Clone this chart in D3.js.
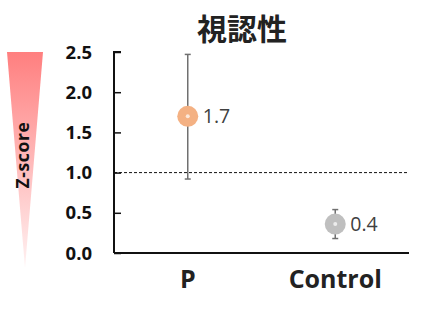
<!DOCTYPE html>
<html><head><meta charset="utf-8">
<script src="https://cdn.jsdelivr.net/npm/d3@7"></script>
<style>html,body{margin:0;padding:0;background:#fff;}svg{display:block;}</style>
</head><body>
<svg id="c" width="432" height="312"></svg>
<script>
const title = "視認性";
const categories = ["P", "Control"];
const means = [1.7, 0.36];
const meanLabels = ["1.7", "0.4"];
const errLow = [0.92, 0.18];
const errHigh = [2.47, 0.54];
const dotColors = ["#f4b183", "#bfbfbf"];
const yTicks = [0, 0.5, 1.0, 1.5, 2.0, 2.5];
const refLine = 1.0;

const svg = d3.select("#c");
const x0 = 114, x1 = 409, yTop = 52, yBot = 253;
const y = d3.scaleLinear().domain([0, 2.5]).range([yBot, yTop]);
const x = d3.scalePoint().domain(categories).range([x0, x1]).padding(0.5);
const font = "'Open Sans','Noto Sans',sans-serif";

// gradient triangle
const defs = svg.append("defs");
const g = defs.append("linearGradient").attr("id","tri").attr("x1",0).attr("y1",0).attr("x2",0).attr("y2",1);
g.append("stop").attr("offset","0%").attr("stop-color","#ff7f7f");
g.append("stop").attr("offset","100%").attr("stop-color","#fff2f2");
svg.append("path").attr("d","M7,52 L43,52 L25,268 Z").attr("fill","url(#tri)");
svg.append("text").attr("transform","translate(29,155) rotate(-90)")
  .attr("text-anchor","middle").attr("font-family",font)
  .attr("font-weight","bold").attr("font-size",17.5).attr("letter-spacing",0.6)
  .attr("fill","#111").text("Z-score");

// title
svg.append("text").attr("x",242).attr("y",40).attr("text-anchor","middle")
  .attr("font-family","'Noto Sans CJK JP',sans-serif").attr("font-weight","bold")
  .attr("font-size",30).attr("fill","#222").text(title);

// y axis
const yAxis = d3.axisRight(y).tickValues(yTicks).tickSize(7).tickFormat("");
const ya = svg.append("g").attr("transform",`translate(${x0},0)`).call(yAxis);
ya.select(".domain").attr("d",`M7,${yTop}H0V${yBot}`).attr("stroke","#111").attr("stroke-width",2);
ya.selectAll(".tick line").attr("stroke","#111").attr("stroke-width",1.5);
svg.append("g").selectAll("text").data(yTicks).join("text")
  .attr("x",92).attr("y",d=>y(d)+6.5).attr("text-anchor","end")
  .attr("font-family",font).attr("font-weight","bold")
  .attr("font-size",18.5).attr("fill","#111").text(d=>d.toFixed(1));

// x axis
svg.append("line").attr("x1",x0).attr("x2",x1).attr("y1",yBot).attr("y2",yBot)
  .attr("stroke","#111").attr("stroke-width",2);
svg.append("g").selectAll("text").data(categories).join("text")
  .attr("x",d=>x(d)).attr("y",288).attr("text-anchor","middle")
  .attr("font-family",font).attr("font-weight","bold")
  .attr("font-size",25).attr("fill","#222").text(d=>d);

// ref line
svg.append("line").attr("x1",x0).attr("x2",x1).attr("y1",y(refLine)).attr("y2",y(refLine))
  .attr("stroke","#111").attr("stroke-width",1).attr("stroke-dasharray","3,2");

// error bars
const eb = svg.append("g").selectAll("g").data(categories).join("g");
eb.append("line").attr("x1",d=>x(d)).attr("x2",d=>x(d))
  .attr("y1",(d,i)=>y(errLow[i])).attr("y2",(d,i)=>y(errHigh[i]))
  .attr("stroke","#707070").attr("stroke-width",1.5);
eb.append("line").attr("x1",d=>x(d)-3).attr("x2",d=>x(d)+3)
  .attr("y1",(d,i)=>y(errHigh[i])).attr("y2",(d,i)=>y(errHigh[i])).attr("stroke","#707070").attr("stroke-width",1.5);
eb.append("line").attr("x1",d=>x(d)-3).attr("x2",d=>x(d)+3)
  .attr("y1",(d,i)=>y(errLow[i])).attr("y2",(d,i)=>y(errLow[i])).attr("stroke","#707070").attr("stroke-width",1.5);
eb.append("circle").attr("cx",d=>x(d)).attr("cy",(d,i)=>y(means[i])).attr("r",10.5)
  .attr("fill",(d,i)=>dotColors[i]);
eb.append("circle").attr("cx",d=>x(d)).attr("cy",(d,i)=>y(means[i])).attr("r",2)
  .attr("fill","#fff").attr("opacity",0.7);
eb.append("text").attr("x",d=>x(d)+15).attr("y",(d,i)=>y(means[i])+7)
  .attr("font-family",font).attr("font-size",19.5)
  .attr("fill","#404040").text((d,i)=>meanLabels[i]);
</script>
</body></html>
